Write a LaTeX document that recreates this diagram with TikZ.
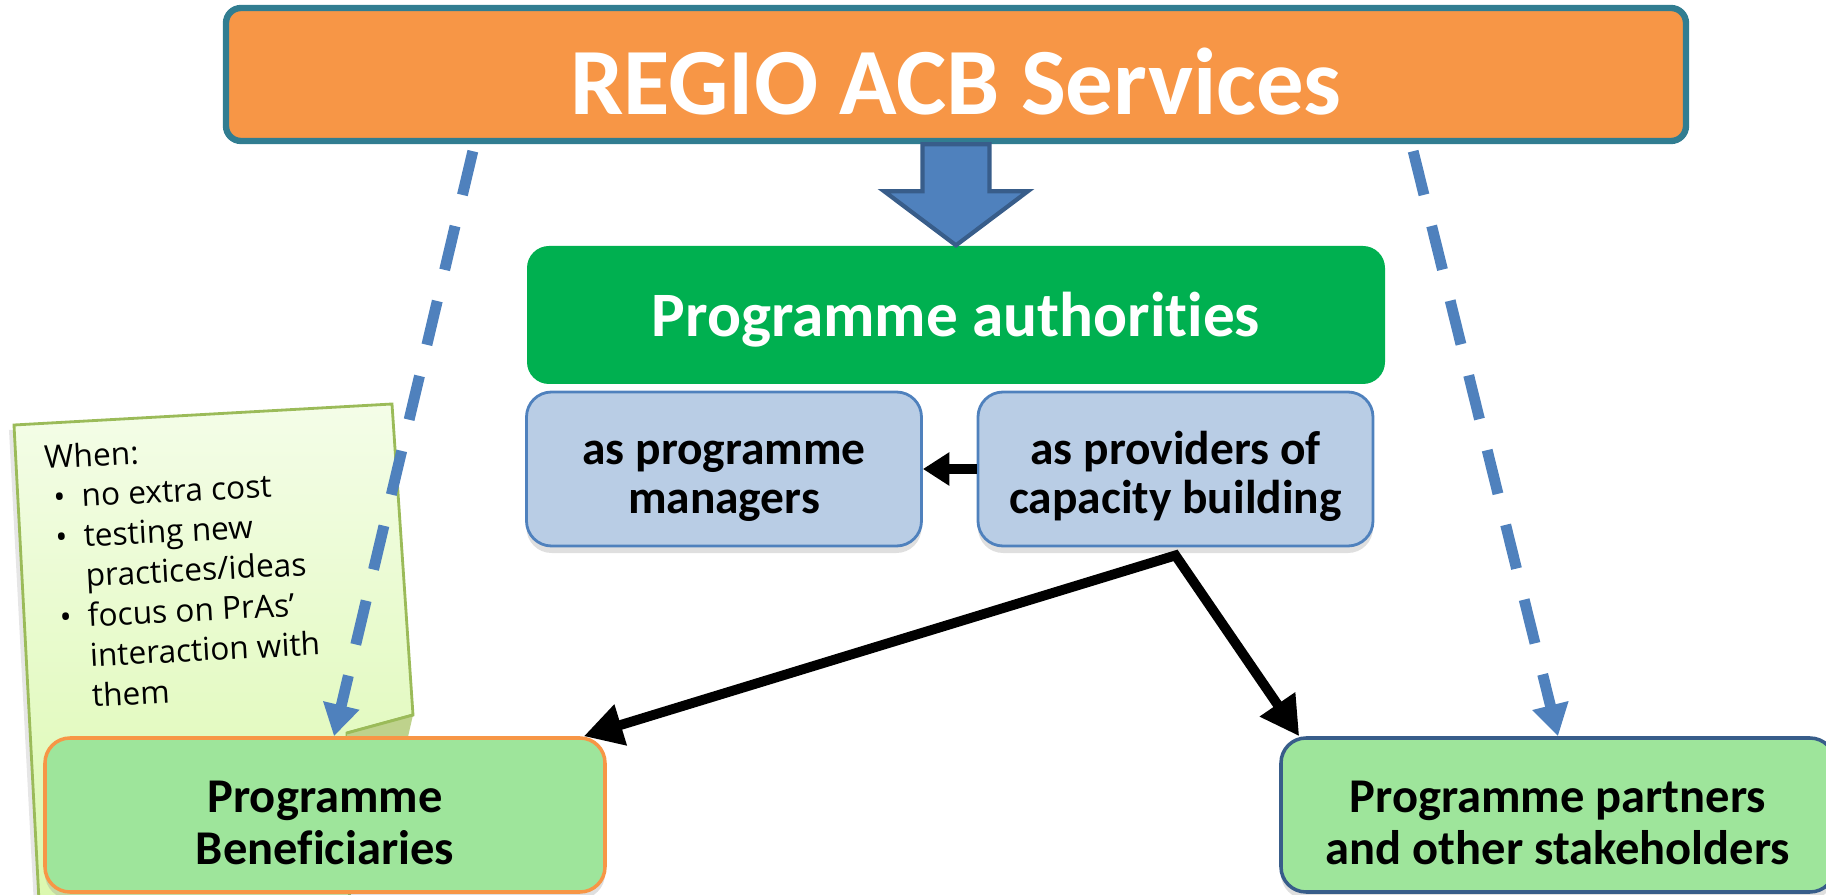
\documentclass[tikz,border=0pt]{standalone}
\usepackage{fontspec}
\setmainfont{Carlito}[Ligatures={NoCommon, NoContextual}, Contextuals={NoAlternate}]
\newfontfamily\notefont{Open Sans}
\usepackage{tikz}
\definecolor{Orange50}{RGB}{247, 150, 70}
\definecolor{Teal60}{RGB}{49, 125, 145}
\definecolor{Blue50}{RGB}{79, 129, 189}
\definecolor{Blue70}{RGB}{56, 93, 138}
\definecolor{Green60}{RGB}{0, 176, 80}
\definecolor{Blue20}{RGB}{185, 205, 229}
\definecolor{Green30}{RGB}{158, 229, 155}
\definecolor{Olive50}{RGB}{155, 187, 89}
\definecolor{Olive20}{RGB}{190, 210, 140}
\definecolor{Lime10}{RGB}{244, 253, 232}
\definecolor{Lime20}{RGB}{218, 248, 172}
\usetikzlibrary{arrows.meta, shadows}
\newcommand{\twolines}[2]{\begin{tabular}[t]{@{}c@{}}#1\\ #2\end{tabular}}
\tikzset{
    tile/.style = {rounded corners=0.25cm, align=center, inner sep=0pt},
    shadowed/.style = {drop shadow={shadow xshift=0pt, shadow yshift=-0.07cm, opacity=0.25}},
    link/.style = {line width=2.8pt, line join=miter, arrows = {-Triangle[length=11pt, width=11.5pt]}}
}
\begin{document}
\begin{tikzpicture}[
    title tile/.style = {tile, fill=Orange50, draw=Teal60, line width=1.8pt, rounded corners=0.15cm, text=white,
                         font=\fontsize{27}{32}\selectfont\bfseries, text height=22.5pt, text depth=0pt,
                         minimum width=14.6cm, minimum height=1.33cm},
    authority tile/.style = {tile, fill=Green60, text=white, rounded corners=0.22cm, text height=13pt, text depth=1pt,
                             font=\fontsize{18}{22}\selectfont\bfseries, minimum width=8.58cm, minimum height=1.38cm},
    role tile/.style = {tile, shadowed, fill=Blue20, draw=Blue50, line width=0.8pt, text height=0pt, text depth=2.8pt,
                        font=\fontsize{13.5}{14.2}\selectfont\bfseries, minimum width=3.95cm, minimum height=1.54cm},
    target tile/.style = {tile, shadowed, fill=Green30, line width=1pt, text height=0pt, text depth=1.2pt,
                          font=\fontsize{13.8}{14.8}\selectfont\bfseries, minimum width=5.6cm, minimum height=1.54cm},
    note text/.style = {align=left, inner sep=0pt, font=\notefont\fontsize{9}{11.4}\selectfont},
    dashed link/.style = {Blue50, line width=3.1pt, dash pattern=on 0.45cm off 0.32cm,
                          arrows = {-Triangle[length=9pt, width=10pt]}}
    ]
    \useasboundingbox (0,0) rectangle (18.26,-8.95);
    \clip (0,0) rectangle (18.26,-8.95);

    %%% Note
    \filldraw[draw=Olive50, line width=0.8pt, top color=Lime10, bottom color=Lime20,
              drop shadow={shadow xshift=-0.05cm, shadow yshift=-0.05cm, opacity=0.2}]
        (0.14,-4.25) -- (3.92,-4.04) -- (4.13,-7.15) -- (3.47,-7.33) -- (3.50,-9.2) -- (0.40,-9.2) -- cycle;
    % folded corner
    \fill[Olive20] (4.13,-7.15) -- (3.47,-7.33) -- (3.47,-7.5) -- (4.05,-7.5) -- cycle;
    \draw[Olive50, line width=0.8pt] (4.13,-7.15) -- (3.47,-7.33);
    \node[note text, rotate=3, anchor=north west] (when) at (0.43,-4.44)
        {When:\\
         \hspace*{2pt}\makebox[8pt][l]{\textbullet}no extra cost\\
         \hspace*{2pt}\makebox[8pt][l]{\textbullet}testing new\\
         \hspace*{10pt}practices/ideas\\
         \hspace*{2pt}\makebox[8pt][l]{\textbullet}focus on PrAs’\\
         \hspace*{10pt}interaction with\\
         \hspace*{10pt}them};

    %%% Boxes
    \node[title tile] (regio) at (9.56,-0.745) {REGIO ACB Services};
    \node[authority tile] (auth) at (9.56,-3.15) {Programme authorities};
    \node[role tile] (managers) at (7.24,-4.69) {\twolines{as programme}{managers}};
    \node[role tile] (providers) at (11.755,-4.69) {\twolines{as providers of}{capacity building}};
    \node[target tile, draw=Orange50] (benef) at (3.25,-8.15) {\twolines{Programme}{Beneficiaries}};
    \node[target tile, draw=Blue70, minimum width=5.54cm] (partners) at (15.58,-8.15)
        {\twolines{Programme partners}{and other stakeholders}};

    %%% Big arrow
    \draw[Blue70, fill=Blue50, line width=1.2pt, line join=miter]
        ([xshift=-0.335cm]regio.south) -- ++(0,-0.47) -- ++(-0.385,0) -- (auth.north)
        -- ([shift={(0.72,-0.47)}]regio.south) -- ++(-0.385,0) -- ([xshift=0.335cm]regio.south) -- cycle;

    %%% Dashed links
    \draw[dashed link] ([shift={(2.5,-0.07)}]regio.south west) -- ([xshift=0.09cm]benef.north);
    \draw[dashed link] ([shift={(-2.76,-0.07)}]regio.south east) -- (partners.north);

    %%% Black links
    \draw[link, arrows = {-Triangle[length=7.5pt, width=9pt]}, line width=2.6pt] (providers.west) -- (managers.east);
    \draw[link, arrows = {Triangle[length=11pt, width=11.5pt]-Triangle[length=11pt, width=11.5pt]}]
        ([xshift=-0.23cm]benef.north east) -- ([yshift=-0.08cm]providers.south) -- ([xshift=0.2cm]partners.north west);
\end{tikzpicture}
\end{document}
